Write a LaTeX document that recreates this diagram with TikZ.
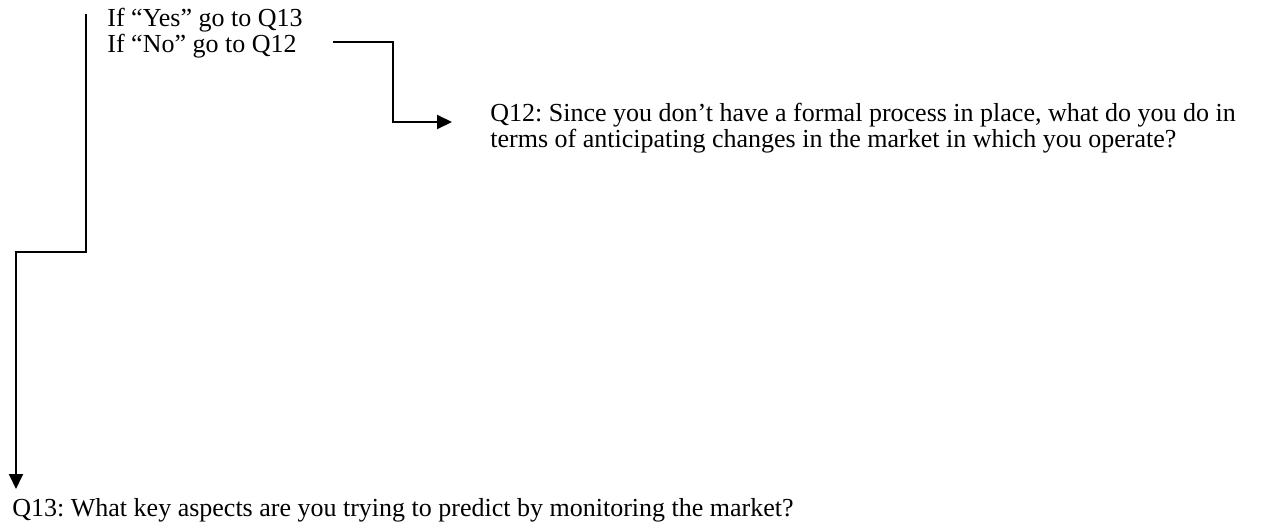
\documentclass[tikz,border=0pt]{standalone}
\usepackage{fontspec}
\setmainfont{Liberation Serif}
\usetikzlibrary{arrows.meta}
\tikzset{
  flow/.style={line width=1pt, -{Triangle[length=7.5pt,width=7pt]}},
  qtext/.style={inner sep=0pt, align=left,
    font=\fontsize{13}{12.8}\selectfont\frenchspacing}
}
\begin{document}
\begin{tikzpicture}[x=0.5pt,y=-0.5pt]
  \useasboundingbox (0,0) rectangle (1269,525);
  % branching instruction (anchored at the baseline of its last line)
  \node[qtext, anchor=base west] (ifs) at (107,52)
    {If “Yes” go to Q13\\If “No” go to Q12};
  % follow-up questions
  \node[qtext, anchor=base west] (q12) at (490,147)
    {Q12: Since you don’t have a formal process in place, what do you do in\\
     terms of anticipating changes in the market in which you operate?};
  \node[qtext, anchor=base west] (q13) at (12,516)
    {Q13: What key aspects are you trying to predict by monitoring the market?};
  % connector start points and bends
  \coordinate (yes) at (86,14);
  \coordinate (no) at (333,42);
  \coordinate (yesbend) at (86,252);
  \coordinate (nobend) at (393,122);
  \coordinate (yestip) at (16,489);
  \coordinate (notip) at (452,122);
  % "Yes" branch to Q13
  \draw[flow] (yes) -- (yesbend) -| (yestip);
  % "No" branch to Q12
  \draw[flow] (no) -| (nobend) -- (notip);
\end{tikzpicture}
\end{document}
